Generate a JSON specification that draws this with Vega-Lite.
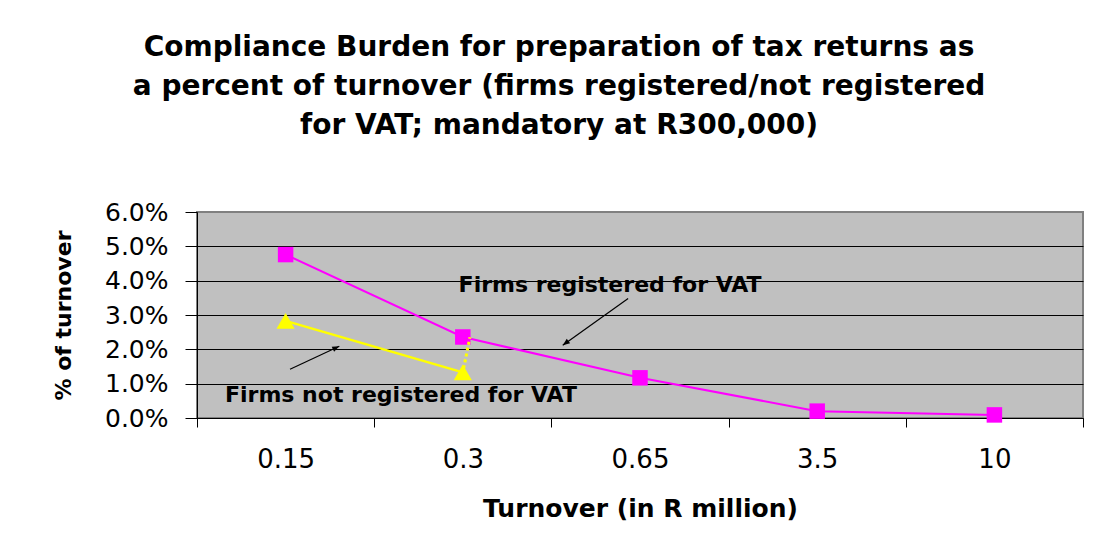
{
  "$schema": "https://vega.github.io/schema/vega-lite/v6.json",
  "width": 886,
  "height": 206,
  "autosize": {"type": "none"},
  "padding": {"left": 197, "top": 212, "right": 14, "bottom": 140},
  "background": "white",
  "config": {
    "font": "DejaVu Sans",
    "view": {"fill": "#C0C0C0", "stroke": "#808080", "strokeWidth": 2}
  },
  "title": {
    "text": ["Compliance Burden for preparation of tax returns as", "a percent of turnover (firms registered/not registered", "for VAT; mandatory at R300,000)"],
    "font": "DejaVu Sans",
    "fontSize": 28,
    "fontWeight": "bold",
    "lineHeight": 39,
    "color": "black",
    "anchor": "middle",
    "frame": "group",
    "baseline": "bottom",
    "dx": -81,
    "offset": 32
  },
  "datasets": {
    "series": [
      {"turnover": "0.15", "pos": 0, "status": "registered", "pct": 0.0476},
      {"turnover": "0.3", "pos": 1, "status": "registered", "pct": 0.0236},
      {"turnover": "0.65", "pos": 2, "status": "registered", "pct": 0.0117},
      {"turnover": "3.5", "pos": 3, "status": "registered", "pct": 0.0020},
      {"turnover": "10", "pos": 4, "status": "registered", "pct": 0.0009},
      {"turnover": "0.15", "pos": 0, "status": "not registered", "pct": 0.0283},
      {"turnover": "0.3", "pos": 1, "status": "not registered", "pct": 0.0133}
    ],
    "connector": [
      {"pos": 1.04, "pct": 0.0235},
      {"pos": 1.005, "pct": 0.0145}
    ],
    "arrows": [
      {"arrow": "registered", "end": "tail", "pos": 1.933, "pct": 0.0348},
      {"arrow": "registered", "end": "head", "pos": 1.564, "pct": 0.0212},
      {"arrow": "not registered", "end": "tail", "pos": 0.025, "pct": 0.0142},
      {"arrow": "not registered", "end": "head", "pos": 0.303, "pct": 0.0209}
    ],
    "labels": [
      {"label": "Firms registered for VAT", "pos": 1.831, "pct": 0.0387},
      {"label": "Firms not registered for VAT", "pos": 0.651, "pct": 0.0066}
    ]
  },
  "encoding": {
    "x": {
      "field": "pos",
      "type": "quantitative",
      "scale": {"domain": [-0.5, 4.5], "nice": false, "zero": false},
      "axis": {
        "title": "Turnover (in R million)",
        "values": [-0.5, 0.5, 1.5, 2.5, 3.5, 4.5],
        "labelExpr": "['0.15','0.3','0.65','3.5','10',''][round(datum.value + 0.5)]",
        "labelOffset": 88.6,
        "labelFlush": false,
        "labelOverlap": false,
        "labelBound": false,
        "labelFontSize": 26,
        "labelColor": "black",
        "labelPadding": 19,
        "tickSize": 9,
        "tickColor": "black",
        "domainColor": "black",
        "grid": false,
        "titleFontSize": 25,
        "titleFontWeight": "bold",
        "titleColor": "black",
        "titlePadding": 24
      }
    },
    "y": {
      "field": "pct",
      "type": "quantitative",
      "scale": {"domain": [0, 0.06], "nice": false, "zero": true},
      "axis": {
        "title": "% of turnover",
        "values": [0, 0.01, 0.02, 0.03, 0.04, 0.05, 0.06],
        "format": ".1%",
        "labelFontSize": 25,
        "labelColor": "black",
        "labelPadding": 17,
        "tickSize": 12,
        "tickColor": "black",
        "domainColor": "black",
        "grid": true,
        "gridColor": {"condition": {"test": "datum.value >= 0.06", "value": "#808080"}, "value": "black"},
        "gridWidth": 1,
        "gridOpacity": 1,
        "titleFontSize": 22,
        "titleFontWeight": "bold",
        "titleColor": "black",
        "titlePadding": 29
      }
    }
  },
  "layer": [
    {
      "data": {"name": "series"},
      "transform": [{"filter": "datum.status === 'registered'"}],
      "mark": {"type": "line", "color": "#FF00FF", "strokeWidth": 2}
    },
    {
      "data": {"name": "series"},
      "transform": [{"filter": "datum.status === 'registered'"}],
      "mark": {"type": "point", "shape": "square", "filled": true, "color": "#FF00FF", "size": 240, "opacity": 1}
    },
    {
      "data": {"name": "series"},
      "transform": [{"filter": "datum.status === 'not registered'"}],
      "mark": {"type": "line", "color": "#FFFF00", "strokeWidth": 2.5}
    },
    {
      "data": {"name": "connector"},
      "mark": {"type": "line", "color": "#FFFF00", "strokeWidth": 3, "strokeDash": [3, 3]}
    },
    {
      "data": {"name": "series"},
      "transform": [{"filter": "datum.status === 'not registered'"}],
      "mark": {"type": "point", "shape": "triangle-up", "filled": true, "color": "#FFFF00", "size": 330, "opacity": 1}
    },
    {
      "data": {"name": "arrows"},
      "mark": {"type": "line", "color": "black", "strokeWidth": 1.2},
      "encoding": {"detail": {"field": "arrow"}, "order": {"field": "end", "sort": "descending"}}
    },
    {
      "data": {"name": "arrows"},
      "transform": [{"filter": "datum.arrow === 'registered' && datum.end === 'head'"}],
      "mark": {"type": "point", "shape": "M0,0L-0.4,1L0.4,1Z", "filled": true, "color": "black", "size": 200, "opacity": 1, "angle": 233.5}
    },
    {
      "data": {"name": "arrows"},
      "transform": [{"filter": "datum.arrow === 'not registered' && datum.end === 'head'"}],
      "mark": {"type": "point", "shape": "M0,0L-0.4,1L0.4,1Z", "filled": true, "color": "black", "size": 200, "opacity": 1, "angle": 64.8}
    },
    {
      "data": {"name": "labels"},
      "mark": {"type": "text", "font": "DejaVu Sans", "fontWeight": "bold", "fontSize": 22, "color": "black", "align": "center", "baseline": "middle"},
      "encoding": {"text": {"field": "label"}}
    }
  ]
}
